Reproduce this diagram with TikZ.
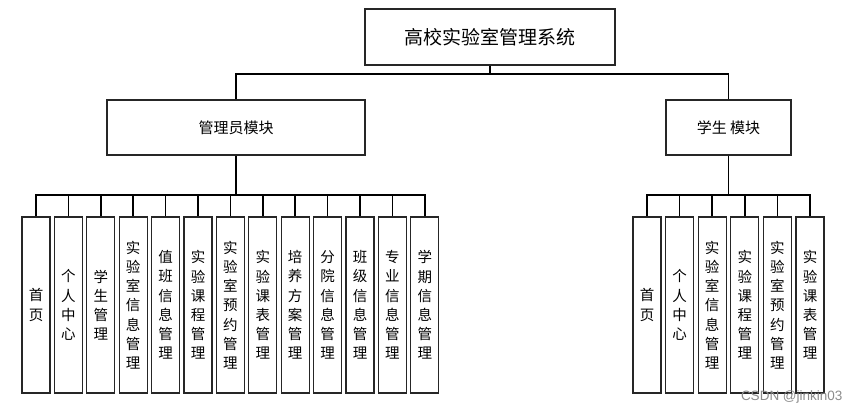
\documentclass[tikz,border=0pt]{standalone}
\usepackage{fontspec}
\setmainfont{Noto Sans CJK SC}
\newfontfamily\marque{Liberation Sans}
\begin{document}
\begin{tikzpicture}[x=1bp,y=-1bp]
	\tikzstyle{boite}=[draw=black!85,line width=1.1bp,fill=white,inner sep=0pt]
	\tikzstyle{racine}=[boite,minimum width=250bp,minimum height=56bp,font=\fontsize{19bp}{21bp}\selectfont]
	\tikzstyle{module}=[boite,minimum height=55bp,font=\fontsize{15bp}{17bp}\selectfont]
	\tikzstyle{feuille}=[boite,minimum width=28bp,minimum height=176bp,align=center,font=\fontsize{14.5bp}{19.2bp}\selectfont]
	\tikzstyle{lien}=[line width=1.6bp,black]
	
	\useasboundingbox (0,0) rectangle (857,413);
	
	\def\HautFeuilles{305}
	\def\PasA{32.4}
	\def\PasB{32.6}
	
	\node[racine] (R) at (490,37) {高校实验室管理系统};
	\node[module,minimum width=258bp] (Ra) at (236,127.5) {管理员模块};
	\node[module,minimum width=125bp] (Rb) at (728.5,127.5) {学生 模块};
	
	\coordinate (busR) at (490,74);
	\coordinate (busA) at (236,195);
	\coordinate (busB) at (728.5,195);
	
	% module administrateur
	\node[feuille] (Ra1) at ({36+0*\PasA},\HautFeuilles) {首\\页};
	\node[feuille] (Ra2) at ({36+1*\PasA},\HautFeuilles) {个\\人\\中\\心};
	\node[feuille] (Ra3) at ({36+2*\PasA},\HautFeuilles) {学\\生\\管\\理};
	\node[feuille] (Ra4) at ({36+3*\PasA},\HautFeuilles) {实\\验\\室\\信\\息\\管\\理};
	\node[feuille] (Ra5) at ({36+4*\PasA},\HautFeuilles) {值\\班\\信\\息\\管\\理};
	\node[feuille] (Ra6) at ({36+5*\PasA},\HautFeuilles) {实\\验\\课\\程\\管\\理};
	\node[feuille] (Ra7) at ({36+6*\PasA},\HautFeuilles) {实\\验\\室\\预\\约\\管\\理};
	\node[feuille] (Ra8) at ({36+7*\PasA},\HautFeuilles) {实\\验\\课\\表\\管\\理};
	\node[feuille] (Ra9) at ({36+8*\PasA},\HautFeuilles) {培\\养\\方\\案\\管\\理};
	\node[feuille] (Ra10) at ({36+9*\PasA},\HautFeuilles) {分\\院\\信\\息\\管\\理};
	\node[feuille] (Ra11) at ({36+10*\PasA},\HautFeuilles) {班\\级\\信\\息\\管\\理};
	\node[feuille] (Ra12) at ({36+11*\PasA},\HautFeuilles) {专\\业\\信\\息\\管\\理};
	\node[feuille] (Ra13) at ({36+12*\PasA},\HautFeuilles) {学\\期\\信\\息\\管\\理};
	
	% module etudiant
	\node[feuille] (Rb1) at ({647+0*\PasB},\HautFeuilles) {首\\页};
	\node[feuille] (Rb2) at ({647+1*\PasB},\HautFeuilles) {个\\人\\中\\心};
	\node[feuille] (Rb3) at ({647+2*\PasB},\HautFeuilles) {实\\验\\室\\信\\息\\管\\理};
	\node[feuille] (Rb4) at ({647+3*\PasB},\HautFeuilles) {实\\验\\课\\程\\管\\理};
	\node[feuille] (Rb5) at ({647+4*\PasB},\HautFeuilles) {实\\验\\室\\预\\约\\管\\理};
	\node[feuille] (Rb6) at ({647+5*\PasB},\HautFeuilles) {实\\验\\课\\表\\管\\理};
	
	\draw[lien] (R)--(busR);
	\draw[lien] (Ra.north) |- (busR);
	\draw[lien] (Rb.north) |- (busR);
	
	\draw[lien] (Ra)--(busA);
	\draw[lien] (Ra1.north) |- (busA);
	\draw[lien] (Ra2.north) |- (busA);
	\draw[lien] (Ra3.north) |- (busA);
	\draw[lien] (Ra4.north) |- (busA);
	\draw[lien] (Ra5.north) |- (busA);
	\draw[lien] (Ra6.north) |- (busA);
	\draw[lien] (Ra7.north) |- (busA);
	\draw[lien] (Ra8.north) |- (busA);
	\draw[lien] (Ra9.north) |- (busA);
	\draw[lien] (Ra10.north) |- (busA);
	\draw[lien] (Ra11.north) |- (busA);
	\draw[lien] (Ra12.north) |- (busA);
	\draw[lien] (Ra13.north) |- (busA);
	
	\draw[lien] (Rb)--(busB);
	\draw[lien] (Rb1.north) |- (busB);
	\draw[lien] (Rb2.north) |- (busB);
	\draw[lien] (Rb3.north) |- (busB);
	\draw[lien] (Rb4.north) |- (busB);
	\draw[lien] (Rb5.north) |- (busB);
	\draw[lien] (Rb6.north) |- (busB);
	
	\node[text=black!45,font=\marque\fontsize{13.5bp}{15bp}\selectfont,anchor=east] (filigrane) at (846,397) {CSDN @jinkin03};
\end{tikzpicture}
\end{document}
